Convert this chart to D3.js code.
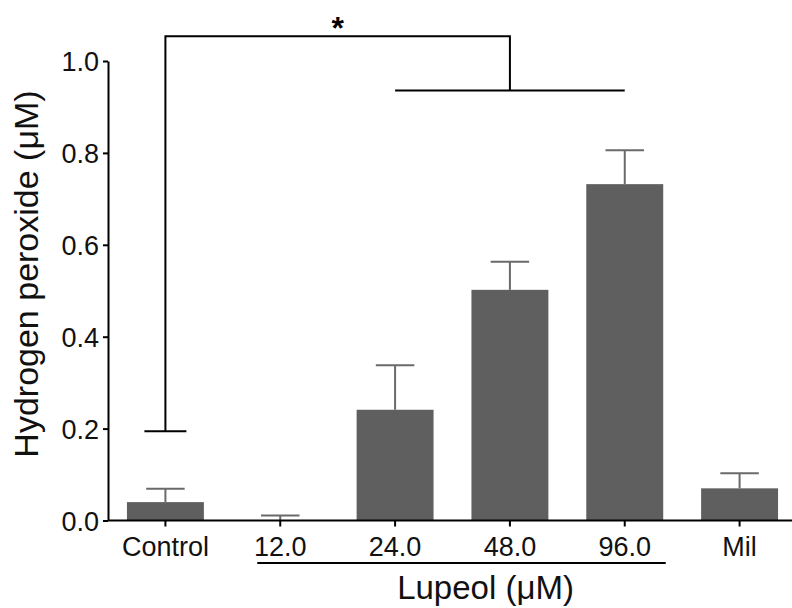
<!DOCTYPE html>
<html>
<head>
<meta charset="utf-8">
<script src="https://cdn.jsdelivr.net/npm/d3@7"></script>
<style>
  body { margin: 0; background: #fff; }
  svg { display: block; font-family: "Liberation Sans", Arial, sans-serif; }
</style>
</head>
<body>
<div id="chart"></div>
<script>
// values
const categories = ["Control", "12.0", "24.0", "48.0", "96.0", "Mil"];
const means = [0.04, 0.0, 0.241, 0.502, 0.732, 0.070];
const errors = [0.029, 0.011, 0.097, 0.061, 0.074, 0.033];
const yTicks = [0.0, 0.2, 0.4, 0.6, 0.8, 1.0];

// significance bracket: Control vs 24/48/96
const bracketLow = 0.194;
const bracketTop = 1.054;
const bracketGroup = 0.936;

const width = 792, height = 608;

const svg = d3.select("#chart").append("svg")
  .attr("width", width)
  .attr("height", height);

const x = d3.scaleBand()
  .domain(categories)
  .range([108, 797])
  .paddingInner(0.33)
  .paddingOuter(0.165);

const y = d3.scaleLinear()
  .domain([0, 1])
  .range([520.5, 61]);

const cx = c => x(c) + x.bandwidth() / 2;
const data = categories.map((c, i) => ({ cat: c, mean: means[i], err: errors[i] }));

// bars
svg.append("g")
  .selectAll("rect")
  .data(data)
  .join("rect")
  .attr("x", d => x(d.cat))
  .attr("width", x.bandwidth())
  .attr("y", d => y(d.mean))
  .attr("height", d => y(0) - y(d.mean))
  .attr("fill", "#5f5f5f");

// error bars (upper only)
const eb = svg.append("g")
  .attr("stroke", "#6a6a6a")
  .attr("stroke-width", 2);

eb.selectAll("line.v")
  .data(data)
  .join("line")
  .attr("class", "v")
  .attr("x1", d => cx(d.cat))
  .attr("x2", d => cx(d.cat))
  .attr("y1", d => y(d.mean))
  .attr("y2", d => y(d.mean + d.err));

eb.selectAll("line.cap")
  .data(data)
  .join("line")
  .attr("class", "cap")
  .attr("x1", d => cx(d.cat) - x.bandwidth() / 4)
  .attr("x2", d => cx(d.cat) + x.bandwidth() / 4)
  .attr("y1", d => y(d.mean + d.err))
  .attr("y2", d => y(d.mean + d.err));

// y axis
const yAxis = svg.append("g")
  .attr("transform", "translate(108,0)")
  .call(d3.axisLeft(y).tickValues(yTicks).tickFormat(d3.format(".1f"))
    .tickSize(5).tickSizeOuter(0).tickPadding(4));
yAxis.select(".domain").attr("stroke", "#000").attr("stroke-width", 2);
yAxis.selectAll(".tick line").attr("stroke", "#000").attr("stroke-width", 2);
yAxis.selectAll(".tick text")
  .attr("fill", "#111")
  .attr("dy", "0.36em")
  .style("font-size", "27px")
  .style("font-family", "Liberation Sans, Arial, sans-serif");

// x axis
const xAxis = svg.append("g")
  .attr("transform", `translate(0,${y(0)})`)
  .call(d3.axisBottom(x).tickSize(6).tickSizeOuter(0).tickPadding(10));
xAxis.select(".domain").attr("stroke", "#000").attr("stroke-width", 2)
  .attr("d", `M108,0H${width}`);
xAxis.selectAll(".tick line").attr("stroke", "#000").attr("stroke-width", 2);
xAxis.selectAll(".tick text")
  .attr("fill", "#111")
  .style("font-size", "27px")
  .style("font-family", "Liberation Sans, Arial, sans-serif");

// y title
svg.append("text")
  .attr("transform", `translate(38,${274}) rotate(-90)`)
  .attr("text-anchor", "middle")
  .attr("fill", "#111")
  .style("font-size", "34px")
  .text("Hydrogen peroxide (\u03bcM)");

// Lupeol group underline + title
svg.append("line")
  .attr("x1", cx("12.0") - 23)
  .attr("x2", cx("96.0") + 41)
  .attr("y1", 563).attr("y2", 563)
  .attr("stroke", "#000").attr("stroke-width", 2);

svg.append("text")
  .attr("x", (cx("24.0") + cx("48.0")) / 2 + 33)
  .attr("y", 599)
  .attr("text-anchor", "middle")
  .attr("fill", "#111")
  .style("font-size", "33px")
  .text("Lupeol (\u03bcM)");

// significance bracket
const br = svg.append("g")
  .attr("fill", "none")
  .attr("stroke", "#000")
  .attr("stroke-width", 2);

br.append("path")
  .attr("d", `M${cx("Control") - 21},${y(bracketLow)}H${cx("Control") + 21}` +
    `M${cx("Control")},${y(bracketLow)}V${y(bracketTop)}H${cx("48.0")}V${y(bracketGroup)}` +
    `M${cx("24.0")},${y(bracketGroup)}H${cx("96.0")}`);

svg.append("text")
  .attr("x", (cx("Control") + cx("48.0")) / 2)
  .attr("y", y(bracketTop) + 3)
  .attr("text-anchor", "middle")
  .attr("fill", "#000")
  .style("font-size", "32px")
  .style("font-weight", "bold")
  .text("*");
</script>
</body>
</html>
